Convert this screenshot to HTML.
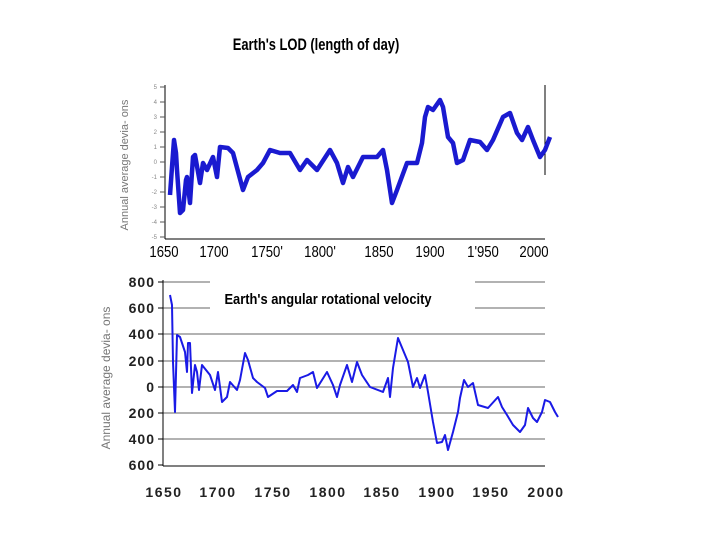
<!DOCTYPE html>
<html><head><meta charset="utf-8"><style>
html,body{margin:0;padding:0;background:#fff;}
svg{display:block;}
</style></head><body>
<svg width="720" height="540" xmlns="http://www.w3.org/2000/svg">
<rect width="720" height="540" fill="#fff"/>
<text transform="translate(316,50) scale(0.76,1)" text-anchor="middle" font-family="Liberation Sans, sans-serif" font-weight="bold" font-size="17" fill="#000">Earth's LOD (length of day)</text>

<!-- Top chart -->
<g stroke="#000" stroke-width="1">
<line x1="165" y1="85" x2="165" y2="239"/>
<line x1="165" y1="239" x2="545" y2="239"/>
<line x1="545" y1="85" x2="545" y2="175"/>
</g>
<g stroke="#555" stroke-width="1">
<line x1="160" y1="87" x2="165" y2="87"/><line x1="160" y1="102" x2="165" y2="102"/><line x1="160" y1="117" x2="165" y2="117"/><line x1="160" y1="132" x2="165" y2="132"/><line x1="160" y1="147" x2="165" y2="147"/><line x1="160" y1="162" x2="165" y2="162"/><line x1="160" y1="177" x2="165" y2="177"/><line x1="160" y1="192" x2="165" y2="192"/><line x1="160" y1="207" x2="165" y2="207"/><line x1="160" y1="222" x2="165" y2="222"/><line x1="160" y1="237" x2="165" y2="237"/>
</g>
<g font-family="Liberation Sans, sans-serif" font-size="6" fill="#888" text-anchor="end">
<text x="157" y="89">5</text><text x="157" y="104">4</text><text x="157" y="119">3</text><text x="157" y="134">2</text><text x="157" y="149">1</text><text x="157" y="164">0</text><text x="157" y="179">-1</text><text x="157" y="194">-2</text><text x="157" y="209">-3</text><text x="157" y="224">-4</text><text x="157" y="239">-5</text>
</g>
<text transform="translate(128,165) rotate(-90)" text-anchor="middle" font-family="Liberation Sans, sans-serif" font-size="11" fill="#777">Annual average devia- ons</text>
<g font-family="Liberation Sans, sans-serif" font-size="16" fill="#000" text-anchor="middle">
<text transform="translate(164,257) scale(0.82,1)">1650</text><text transform="translate(214,257) scale(0.82,1)">1700</text><text transform="translate(267,257) scale(0.82,1)">1750'</text><text transform="translate(320,257) scale(0.82,1)">1800'</text><text transform="translate(379,257) scale(0.82,1)">1850</text><text transform="translate(430,257) scale(0.82,1)">1900</text><text transform="translate(483,257) scale(0.82,1)">1'950</text><text transform="translate(534,257) scale(0.82,1)">2000</text>
</g>
<polyline fill="none" stroke="#1a1ad0" stroke-width="4.5" stroke-linejoin="round" points="170,195 172,167 174,140 176,153 177,170 180,213 183,210 186,180 187,177 190,203 193,157 195,155 200,183 203,163 207,170 213,157 217,177 220,147 228,148 233,153 243,190 248,177 257,170 263,163 270,150 280,153 290,153 300,170 307,160 317,170 330,150 337,163 343,183 348,167 353,177 363,157 377,157 383,150 387,170 392,203 397,190 407,163 417,163 422,143 425,117 428,107 433,110 440,100 443,107 448,137 453,143 457,163 463,160 470,140 480,142 487,150 493,140 503,117 510,113 517,133 522,140 528,127 533,140 540,157 545,150 550,137"/>

<!-- Bottom chart -->
<g stroke="#999" stroke-width="1.5">
<line x1="163" y1="282" x2="210" y2="282"/><line x1="475" y1="282" x2="545" y2="282"/>
<line x1="163" y1="308" x2="210" y2="308"/><line x1="475" y1="308" x2="545" y2="308"/>
<line x1="163" y1="334" x2="545" y2="334"/>
<line x1="163" y1="361" x2="545" y2="361"/>
<line x1="163" y1="387" x2="545" y2="387"/>
<line x1="163" y1="413" x2="545" y2="413"/>
<line x1="163" y1="439" x2="545" y2="439"/>
</g>
<g stroke="#000" stroke-width="1">
<line x1="163" y1="280" x2="163" y2="466"/>
<line x1="163" y1="466" x2="545" y2="466"/>
<line x1="158" y1="282" x2="163" y2="282"/><line x1="158" y1="308" x2="163" y2="308"/><line x1="158" y1="334" x2="163" y2="334"/><line x1="158" y1="361" x2="163" y2="361"/><line x1="158" y1="387" x2="163" y2="387"/><line x1="158" y1="413" x2="163" y2="413"/><line x1="158" y1="439" x2="163" y2="439"/><line x1="158" y1="465" x2="163" y2="465"/>
</g>
<g font-family="Liberation Sans, sans-serif" font-size="14" font-weight="bold" fill="#222" text-anchor="end" letter-spacing="1">
<text x="155" y="287">800</text><text x="155" y="313">600</text><text x="155" y="339">400</text><text x="155" y="366">200</text><text x="155" y="392">0</text><text x="155" y="418">200</text><text x="155" y="444">400</text><text x="155" y="470">600</text>
</g>
<text transform="translate(110,378) rotate(-90)" text-anchor="middle" font-family="Liberation Sans, sans-serif" font-size="12" fill="#777">Annual average devia- ons</text>
<g font-family="Liberation Sans, sans-serif" font-size="14" font-weight="bold" fill="#222" text-anchor="middle" letter-spacing="1.5">
<text x="164" y="497">1650</text><text x="218" y="497">1700</text><text x="273" y="497">1750</text><text x="328" y="497">1800</text><text x="382" y="497">1850</text><text x="437" y="497">1900</text><text x="491" y="497">1950</text><text x="546" y="497">2000</text>
</g>
<text transform="translate(328,304) scale(0.86,1)" text-anchor="middle" font-family="Liberation Sans, sans-serif" font-weight="bold" font-size="15" fill="#000">Earth's angular rotational velocity</text>
<polyline fill="none" stroke="#1a1ae6" stroke-width="2" stroke-linejoin="round" points="170,295 172,305 173,362 175,412 177,335 180,337 185,352 187,372 188,343 190,343 192,393 195,365 197,372 199,390 202,365 210,375 215,390 218,372 222,402 227,397 230,382 237,390 240,380 245,353 248,360 253,378 257,382 265,388 268,397 277,391 287,391 293,385 297,392 300,378 308,375 313,372 317,388 327,372 333,385 337,397 340,385 347,365 352,382 357,362 362,375 370,387 383,392 388,378 390,397 393,368 398,338 403,350 408,362 413,387 417,378 420,388 425,375 428,392 433,422 437,443 442,442 445,435 448,450 453,432 458,412 460,398 464,380 468,387 473,383 478,405 488,408 498,397 502,407 507,415 513,425 520,432 525,425 528,408 533,418 537,422 542,412 545,400 550,402 555,412 558,417"/>
</svg>
</body></html>
